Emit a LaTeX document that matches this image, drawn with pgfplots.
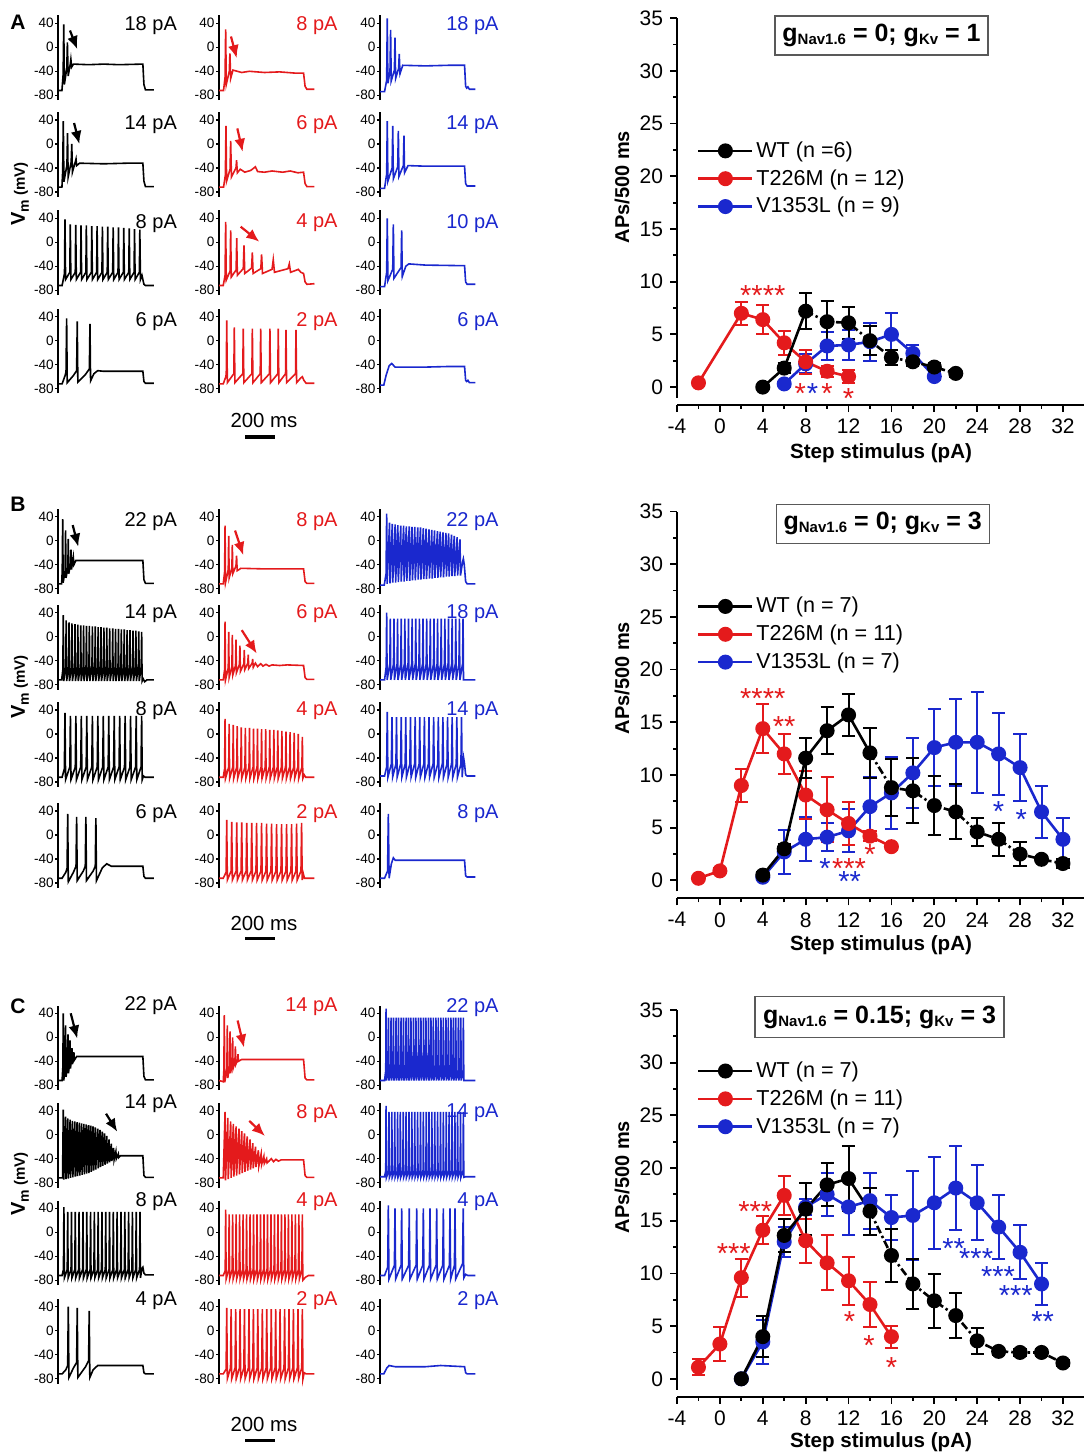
\documentclass[border=0pt]{standalone}
\usepackage{fontspec}
\setmainfont{Liberation Sans}
\usepackage{pgfplots}
\pgfplotsset{compat=1.18}
\usetikzlibrary{arrows.meta}
\definecolor{wtred}{RGB}{228,26,28}
\definecolor{mblue}{RGB}{26,40,206}
\newcommand\fs[1]{\fontsize{#1}{#1}\selectfont}

\pgfplotsset{
  trace/.style={scale only axis, width=48.5pt, height=42.3pt, anchor=south west,
    xmin=0, xmax=640, ymin=-88, ymax=53, axis x line=none, axis y line=left, xtick=\empty,
    axis line style={-, line width=1pt}, ytick={-80,-40,0,40}, yticklabels={-80,-40,0,40},
    tick align=outside, major tick length=1.5pt, tick style={line width=0.6pt, black},
    yticklabel style={font=\fs{6.8}, inner sep=0.6pt}, clip=false},
  mainax/.style={scale only axis, width=203.7pt, height=193.4pt, anchor=south west,
    xmin=-4, xmax=34, ymin=-1.7, ymax=35, axis lines=left, axis line style={-, line width=1pt},
    y axis line style={shorten <=3.5pt},
    xtick={-4,0,...,32}, ytick={0,5,...,35}, minor x tick num=1, minor y tick num=1,
    tick align=outside, major tick length=3.5pt, minor tick length=2pt,
    tick style={line width=0.9pt, black}, ticklabel style={font=\fs{10.5}},
    /pgf/number format/assume math mode=true, clip=false,
    legend cell align=left,
    legend style={draw=none, fill=none, font=\fs{10.8}, anchor=west, inner sep=0pt,
      row sep=2pt, nodes={inner sep=1.3pt}},
    legend image code/.code={\draw[mark repeat=2,mark phase=2,##1] plot coordinates {(0pt,0pt)(13.5pt,0pt)(27pt,0pt)};}},
  ser/.style={color=#1, line width=1.3pt, mark=*, mark size=3.1pt, mark options={solid, fill=#1}, forget plot,
    /pgfplots/error bars/y dir=both, /pgfplots/error bars/y explicit,
    /pgfplots/error bars/error bar style={line width=1pt, solid},
    /pgfplots/error bars/error mark options={rotate=90, mark size=3.3pt, line width=1pt, solid}},
  leg/.style={color=#1, line width=1.3pt, mark=*, mark size=3.1pt, mark options={fill=#1}},
  wtdash/.style={black, line width=1.3pt, dash pattern=on 4pt off 1.5pt on 1.2pt off 1.5pt, forget plot},
}
\tikzset{stars/.style={font=\fs{14.5}, inner sep=0pt, yshift=-3.2pt}}

% trace panel: x px, y px of the 40 mV tick, colour, label, label height (mV), trace, extras
\newcommand\tp[7]{%
  \begin{axis}[trace, at={(#1*0.5pt,-38.4pt-#2*0.5pt)}]
    \addplot[#3, line width=0.8pt] coordinates {#6};
    \node[anchor=east, text=#3, font=\fs{10}, inner sep=0pt] at (axis cs:785,#5) {#4};
    #7
  \end{axis}}
\newcommand\arr[5]{\draw[-{Latex[length=6.5pt,width=5.5pt]}, line width=1.1pt, #1] (axis cs:#2,#3) -- (axis cs:#4,#5);}

\begin{document}
\begin{tikzpicture}
\useasboundingbox (0,0) rectangle (542pt,-727pt);

% ---------------- A traces
\tp{58.3}{23.3}{black}{18 pA}{37}{(0,-72)(24,-72)(32,-45)(36,38)(40,-62)(56,-35)(60,8)(65,-48)(79,-28)(83,-20)(88,-33)(100,-28)(200,-29)(300,-28)(400,-29)(558,-28)(565,-62)(575,-71)(630,-71)}{\arr{black}{77}{28}{125}{-3}}
\tp{219}{23.3}{wtred}{8 pA}{37}{(0,-72)(30,-72)(40,-50)(44,30)(48,-62)(68,-40)(72,-10)(77,-52)(92,-38)(150,-42)(200,-40)(300,-42)(400,-41)(500,-43)(558,-43)(568,-65)(580,-70)(630,-70)}{\arr{wtred}{79}{18}{117}{-18}}
\tp{380}{23.3}{mblue}{18 pA}{37}{(0,-74)(30,-74)(44,-55)(48,48)(52,-60)(66,-40)(70,29)(74,-56)(95,-38)(99,16)(103,-52)(123,-35)(127,-11)(132,-44)(150,-30)(300,-31)(450,-30)(558,-30)(565,-65)(572,-68)(580,-66)(590,-70)(630,-70)}{}

\tp{58.3}{120}{black}{14 pA}{32}{(0,-72)(24,-72)(29,-45)(33,38)(37,-63)(57,-35)(61,18)(65,-55)(85,-30)(89,0)(93,-47)(112,-30)(117,-25)(121,-36)(140,-32)(300,-33)(450,-32)(558,-32)(565,-62)(575,-71)(630,-71)}{\arr{black}{104}{35}{139}{0}}
\tp{219}{120}{wtred}{6 pA}{32}{(0,-72)(30,-72)(42,-52)(46,30)(50,-62)(73,-42)(77,5)(82,-55)(112,-40)(116,-27)(121,-48)(140,-42)(170,-47)(210,-44)(240,-38)(255,-46)(300,-47)(350,-45)(420,-47)(470,-45)(520,-48)(558,-47)(568,-66)(580,-71)(630,-71)}{\arr{wtred}{121}{26}{156}{-13}}
\tp{380}{120}{mblue}{14 pA}{32}{(0,-74)(30,-74)(44,-50)(48,38)(52,-62)(80,-40)(84,30)(88,-58)(117,-38)(121,22)(125,-54)(154,-36)(158,14)(162,-48)(185,-36)(300,-37)(558,-37)(565,-66)(575,-70)(630,-70)}{}

\tp{58.3}{218.3}{black}{8 pA}{32}{(0,-72)(25,-72)(41,-52)(44,38)(48,-62)(76,-50)(79,30)(83,-62)(112,-50)(115,29)(119,-62)(147,-50)(150,28)(154,-62)(182,-50)(185,28)(189,-62)(218,-50)(221,27)(225,-62)(253,-50)(256,27)(260,-62)(288,-50)(291,26)(295,-62)(323,-50)(326,26)(330,-62)(359,-50)(362,25)(366,-62)(394,-50)(397,25)(401,-62)(429,-50)(432,24)(436,-62)(465,-50)(468,23)(472,-62)(500,-50)(503,22)(507,-62)(535,-50)(538,21)(542,-62)(552,-55)(558,-62)(565,-70)(575,-72)(630,-72)}{}
\tp{219}{218.3}{wtred}{4 pA}{32}{(0,-72)(28,-72)(40,-55)(44,34)(48,-63)(73,-48)(77,20)(81,-58)(113,-46)(117,7)(121,-55)(160,-44)(165,-5)(170,-52)(215,-43)(220,-17)(225,-52)(276,-44)(281,-20)(287,-52)(350,-45)(358,-29)(366,-50)(455,-44)(464,-36)(472,-50)(515,-46)(523,-45)(540,-50)(558,-52)(568,-66)(580,-70)(630,-69)}{\arr{wtred}{143}{26}{266}{1}}
\tp{380}{218.3}{mblue}{10 pA}{32}{(0,-74)(30,-74)(44,-50)(48,40)(52,-64)(84,-45)(88,30)(92,-60)(139,-42)(143,20)(147,-57)(170,-40)(190,-36)(300,-38)(558,-39)(565,-66)(575,-70)(630,-70)}{}

\tp{58.3}{316.7}{black}{6 pA}{32}{(0,-72)(25,-72)(45,-58)(51,-52)(55,37)(59,-70)(100,-58)(121,-50)(125,32)(129,-69)(180,-56)(205,-47)(209,28)(213,-67)(235,-55)(260,-50)(300,-51)(558,-51)(565,-68)(575,-71)(630,-71)}{}
\tp{219}{316.7}{wtred}{2 pA}{32}{(0,-72)(28,-72)(45,-60)(48,-55)(51,34)(55,-70)(98,-55)(101,22)(105,-70)(157,-55)(160,20)(164,-70)(217,-55)(220,20)(224,-70)(272,-55)(275,20)(279,-70)(333,-55)(336,20)(340,-70)(388,-55)(391,20)(395,-70)(439,-55)(442,18)(446,-70)(505,-55)(508,18)(512,-70)(540,-62)(550,-60)(560,-66)(575,-71)(630,-71)}{}
\tp{380}{316.7}{mblue}{6 pA}{32}{(0,-74)(25,-74)(40,-58)(60,-42)(77,-38)(100,-44)(300,-44)(450,-43)(558,-43)(565,-66)(572,-68)(580,-66)(590,-70)(630,-70)}{}

% ---------------- B traces
\tp{58.3}{516.7}{black}{22 pA}{32}{(0,-72)(22,-72)(26,-50)(29,36)(32,-70)(45,-50)(48,17)(51,-62)(63,-45)(66,3)(69,-55)(81,-38)(84,-15)(87,-48)(96,-32)(99,-27)(103,-40)(116,-33)(300,-33)(558,-33)(565,-65)(575,-71)(630,-71)}{\arr{black}{95}{26}{132}{-10}}
\tp{219}{516.7}{wtred}{8 pA}{32}{(0,-72)(28,-72)(37,-52)(40,25)(43,-70)(61,-48)(64,8)(67,-62)(85,-45)(88,-7)(91,-55)(112,-42)(116,-25)(120,-50)(145,-46)(300,-47)(558,-47)(568,-68)(580,-71)(630,-71)}{\arr{wtred}{106}{17}{160}{-24}}
\tp{380}{516.7}{mblue}{22 pA}{32}{(0,-74)(28,-74)(40,-55)(44,45)(47,-72)(63,30)(66,-71)(81,28)(84,-70)(100,27)(103,-70)(118,26)(121,-69)(137,25)(140,-68)(156,25)(159,-68)(174,24)(177,-67)(193,24)(196,-67)(211,23)(214,-66)(230,23)(233,-66)(249,22)(252,-65)(267,22)(270,-65)(286,21)(289,-64)(304,20)(307,-64)(323,19)(326,-63)(342,18)(345,-63)(360,17)(363,-62)(379,16)(382,-62)(397,15)(400,-61)(416,14)(419,-61)(435,13)(438,-60)(453,12)(456,-60)(472,10)(475,-59)(490,8)(493,-59)(509,6)(512,-58)(528,2)(531,-58)(545,-35)(550,-30)(556,-40)(565,-68)(575,-72)(630,-72)}{}

\tp{58.3}{612.7}{black}{14 pA}{39}{(0,-72)(22,-72)(30,-55)(33,36)(36,-74)(49,-50)(52,27)(55,-74)(68,-50)(71,24)(74,-74)(87,-50)(90,22)(93,-74)(107,-50)(110,21)(113,-74)(126,-50)(129,20)(132,-74)(145,-50)(148,19)(151,-74)(164,-50)(167,19)(170,-74)(183,-50)(186,18)(189,-74)(202,-50)(205,18)(208,-74)(222,-50)(225,17)(228,-74)(241,-50)(244,17)(247,-74)(260,-50)(263,16)(266,-74)(279,-50)(282,16)(285,-74)(298,-50)(301,15)(304,-74)(317,-50)(320,15)(323,-74)(336,-50)(339,14)(342,-74)(356,-50)(359,14)(362,-74)(375,-50)(378,13)(381,-74)(394,-50)(397,13)(400,-74)(413,-50)(416,12)(419,-74)(432,-50)(435,12)(438,-74)(451,-50)(454,11)(457,-74)(470,-50)(473,11)(476,-74)(490,-50)(493,10)(496,-74)(509,-50)(512,10)(515,-74)(528,-50)(531,9)(534,-74)(547,-50)(550,8)(553,-74)(560,-70)(570,-75)(585,-72)(630,-72)}{}
\tp{219}{612.7}{wtred}{6 pA}{39}{(0,-72)(28,-72)(37,-55)(40,25)(43,-72)(61,-52)(64,8)(67,-68)(85,-50)(88,3)(91,-64)(109,-48)(112,-5)(115,-60)(135,-46)(138,-15)(141,-58)(164,-45)(167,-22)(170,-55)(190,-44)(193,-30)(196,-53)(219,-44)(222,-37)(226,-51)(240,-44)(255,-50)(275,-45)(290,-49)(310,-46)(330,-49)(350,-47)(400,-48)(450,-47)(558,-48)(568,-68)(580,-71)(630,-71)}{\arr{wtred}{150}{11}{249}{-28}}
\tp{380}{612.7}{mblue}{18 pA}{39}{(0,-72)(30,-72)(41,-50)(44,40)(47,-72)(65,-45)(68,30)(71,-72)(89,-45)(92,30)(95,-72)(113,-45)(116,30)(119,-72)(137,-45)(140,30)(143,-72)(161,-45)(164,30)(167,-72)(185,-45)(188,30)(191,-72)(209,-45)(212,30)(215,-72)(233,-45)(236,30)(239,-72)(257,-45)(260,30)(263,-72)(281,-45)(284,30)(287,-72)(305,-45)(308,30)(311,-72)(329,-45)(332,30)(335,-72)(353,-45)(356,30)(359,-72)(377,-45)(380,30)(383,-72)(401,-45)(404,30)(407,-72)(425,-45)(428,30)(431,-72)(449,-45)(452,30)(455,-72)(473,-45)(476,30)(479,-72)(497,-45)(500,30)(503,-72)(521,-45)(524,30)(527,-72)(545,-45)(548,30)(551,-72)(565,-72)(630,-72)}{}

\tp{58.3}{710}{black}{8 pA}{39}{(0,-72)(25,-72)(40,-58)(44,35)(48,-76)(76,-55)(80,30)(84,-76)(112,-55)(116,30)(120,-76)(148,-55)(152,30)(156,-76)(184,-55)(188,30)(192,-76)(221,-55)(225,30)(229,-76)(257,-55)(261,30)(265,-76)(293,-55)(297,30)(301,-76)(329,-55)(333,30)(337,-76)(365,-55)(369,30)(373,-76)(401,-55)(405,30)(409,-76)(437,-55)(441,30)(445,-76)(473,-55)(477,30)(481,-76)(510,-55)(514,30)(518,-76)(546,-55)(550,30)(554,-76)(562,-70)(572,-72)(630,-72)}{}
\tp{219}{710}{wtred}{4 pA}{39}{(0,-72)(28,-72)(37,-58)(40,25)(43,-74)(64,-55)(67,17)(70,-74)(91,-55)(94,15)(97,-74)(117,-55)(120,13)(123,-74)(144,-55)(147,11)(150,-74)(171,-55)(174,10)(177,-74)(198,-55)(201,10)(204,-74)(225,-55)(228,9)(231,-74)(251,-55)(254,9)(257,-74)(278,-55)(281,8)(284,-74)(305,-55)(308,8)(311,-74)(332,-55)(335,7)(338,-74)(359,-55)(362,7)(365,-74)(385,-55)(388,6)(391,-74)(412,-55)(415,5)(418,-74)(439,-55)(442,4)(445,-74)(466,-55)(469,3)(472,-74)(493,-55)(496,2)(499,-74)(520,-55)(523,0)(526,-74)(547,-55)(550,-5)(553,-74)(562,-68)(572,-72)(630,-72)}{}
\tp{380}{710}{mblue}{14 pA}{39}{(0,-70)(30,-70)(44,-55)(48,37)(52,-72)(75,-50)(79,28)(83,-72)(105,-50)(109,28)(113,-72)(136,-50)(140,28)(144,-72)(166,-50)(170,28)(174,-72)(197,-50)(201,28)(205,-72)(228,-50)(232,28)(236,-72)(258,-50)(262,28)(266,-72)(289,-50)(293,28)(297,-72)(319,-50)(323,28)(327,-72)(350,-50)(354,28)(358,-72)(381,-50)(385,28)(389,-72)(411,-50)(415,28)(419,-72)(442,-50)(446,28)(450,-72)(472,-50)(476,28)(480,-72)(503,-50)(507,28)(511,-72)(534,-50)(538,28)(542,-72)(552,-40)(558,-50)(565,-68)(575,-70)(630,-70)}{}

\tp{58.3}{811}{black}{6 pA}{35}{(0,-72)(25,-72)(50,-62)(58,-55)(62,35)(66,-78)(100,-62)(117,-52)(121,30)(125,-76)(165,-60)(178,-52)(182,30)(186,-76)(230,-60)(244,-52)(248,28)(252,-76)(290,-55)(319,-48)(350,-52)(558,-52)(565,-69)(575,-72)(630,-72)}{}
\tp{219}{811}{wtred}{2 pA}{35}{(0,-72)(28,-72)(47,-62)(51,25)(55,-75)(80,-60)(84,22)(88,-75)(113,-60)(117,21)(121,-75)(146,-60)(150,21)(154,-75)(179,-60)(183,20)(187,-75)(212,-60)(216,20)(220,-75)(244,-60)(248,20)(252,-75)(277,-60)(281,20)(285,-75)(310,-60)(314,19)(318,-75)(343,-60)(347,19)(351,-75)(376,-60)(380,18)(384,-75)(409,-60)(413,18)(417,-75)(442,-60)(446,18)(450,-75)(475,-60)(479,18)(483,-75)(508,-60)(512,19)(516,-75)(541,-60)(545,20)(549,-75)(556,-64)(564,-72)(630,-72)}{}
\tp{380}{811}{mblue}{8 pA}{35}{(0,-72)(30,-72)(50,-60)(55,35)(60,-72)(75,-48)(88,-38)(100,-42)(300,-42)(558,-42)(565,-68)(575,-70)(630,-70)}{}

% ---------------- C traces
\tp{58.3}{1013.3}{black}{22 pA}{53}{(0,-72)(25,-72)(30,-50)(33,40)(36,-72)(45,-50)(48,20)(51,-66)(61,-45)(64,5)(67,-60)(74,-45)(77,-5)(80,-52)(87,-38)(90,-18)(93,-45)(100,-32)(103,-25)(106,-38)(121,-32)(300,-32)(558,-32)(565,-65)(575,-71)(630,-71)}{\arr{black}{82}{40}{125}{-2}}
\tp{219}{1013.3}{wtred}{14 pA}{51}{(0,-72)(28,-74)(32,-55)(35,37)(38,-75)(52,-52)(55,20)(58,-68)(70,-48)(73,10)(76,-60)(87,-45)(90,0)(93,-52)(105,-42)(108,-15)(111,-45)(122,-38)(125,-28)(128,-40)(149,-37)(300,-37)(558,-37)(568,-68)(580,-71)(630,-71)}{\arr{wtred}{123}{28}{165}{-17}}
\tp{380}{1013.3}{mblue}{22 pA}{50}{(0,-72)(30,-72)(38,-55)(40,48)(43,-72)(54,-55)(56,33)(59,-72)(71,-55)(73,33)(76,-72)(87,-55)(89,33)(92,-72)(104,-55)(106,33)(109,-72)(120,-55)(122,33)(125,-72)(137,-55)(139,33)(142,-72)(153,-55)(155,33)(158,-72)(170,-55)(172,33)(175,-72)(186,-55)(188,33)(191,-72)(202,-55)(204,33)(207,-72)(219,-55)(221,33)(224,-72)(235,-55)(237,33)(240,-72)(252,-55)(254,33)(257,-72)(268,-55)(270,33)(273,-72)(285,-55)(287,33)(290,-72)(301,-55)(303,33)(306,-72)(318,-55)(320,33)(323,-72)(334,-55)(336,33)(339,-72)(350,-55)(352,33)(355,-72)(367,-55)(369,33)(372,-72)(383,-55)(385,33)(388,-72)(400,-55)(402,33)(405,-72)(416,-55)(418,33)(421,-72)(433,-55)(435,33)(438,-72)(449,-55)(451,33)(454,-72)(466,-55)(468,33)(471,-72)(482,-55)(484,33)(487,-72)(498,-55)(500,33)(503,-72)(515,-55)(517,33)(520,-72)(531,-55)(533,33)(536,-72)(548,-55)(550,33)(553,-72)(565,-72)(630,-72)}{}

\tp{58.3}{1110.7}{black}{14 pA}{51}{(0,-72)(28,-72)(33,42)(36,-75)(48,30)(51,-74)(63,27)(66,-73)(78,25)(81,-72)(93,23)(96,-71)(109,22)(112,-70)(124,21)(127,-69)(139,20)(142,-68)(154,19)(157,-67)(169,18)(172,-66)(184,17)(187,-65)(199,16)(202,-64)(214,15)(217,-62)(229,14)(232,-60)(244,12)(247,-58)(260,10)(263,-56)(275,8)(278,-54)(290,5)(293,-52)(305,2)(308,-50)(320,-2)(323,-48)(335,-8)(338,-46)(350,-15)(353,-44)(365,-22)(368,-42)(380,-28)(383,-40)(396,-32)(399,-38)(410,-35)(430,-35)(558,-35)(565,-68)(575,-71)(630,-71)}{\arr{black}{315}{35}{389}{5}}
\tp{219}{1110.7}{wtred}{8 pA}{35}{(0,-72)(28,-72)(40,38)(43,-76)(58,28)(61,-74)(77,22)(80,-72)(95,18)(98,-70)(113,14)(116,-68)(132,10)(135,-66)(150,6)(153,-64)(168,2)(171,-62)(186,-3)(189,-60)(205,-8)(208,-58)(223,-14)(226,-56)(241,-20)(244,-54)(260,-26)(263,-52)(278,-32)(281,-50)(296,-36)(299,-48)(314,-40)(317,-47)(330,-44)(345,-40)(360,-45)(375,-41)(392,-44)(410,-42)(558,-42)(568,-68)(580,-71)(630,-71)}{\arr{wtred}{200}{23}{303}{-2}}
\tp{380}{1110.7}{mblue}{14 pA}{36}{(0,-70)(30,-70)(38,-60)(40,48)(43,-71)(57,-60)(59,38)(62,-71)(76,-60)(78,38)(81,-71)(95,-60)(97,38)(100,-71)(114,-60)(116,38)(119,-71)(132,-60)(134,38)(137,-71)(151,-60)(153,38)(156,-71)(170,-60)(172,38)(175,-71)(189,-60)(191,38)(194,-71)(208,-60)(210,38)(213,-71)(227,-60)(229,38)(232,-71)(246,-60)(248,38)(251,-71)(265,-60)(267,38)(270,-71)(284,-60)(286,38)(289,-71)(303,-60)(305,38)(308,-71)(321,-60)(323,38)(326,-71)(340,-60)(342,38)(345,-71)(359,-60)(361,38)(364,-71)(378,-60)(380,38)(383,-71)(397,-60)(399,38)(402,-71)(416,-60)(418,38)(421,-71)(435,-60)(437,38)(440,-71)(454,-60)(456,38)(459,-71)(473,-60)(475,38)(478,-71)(492,-60)(494,38)(497,-71)(510,-60)(512,38)(515,-71)(529,-60)(531,38)(534,-71)(548,-60)(550,38)(553,-71)(565,-70)(630,-70)}{}

\tp{58.3}{1208.3}{black}{8 pA}{51}{(0,-72)(25,-72)(34,-62)(37,42)(40,-76)(59,-62)(62,34)(65,-76)(84,-62)(87,34)(90,-76)(109,-62)(112,34)(115,-76)(134,-62)(137,34)(140,-76)(160,-62)(163,34)(166,-76)(185,-62)(188,34)(191,-76)(210,-62)(213,34)(216,-76)(235,-62)(238,34)(241,-76)(260,-62)(263,34)(266,-76)(285,-62)(288,34)(291,-76)(310,-62)(313,34)(316,-76)(335,-62)(338,34)(341,-76)(360,-62)(363,34)(366,-76)(385,-62)(388,34)(391,-76)(411,-62)(414,34)(417,-76)(436,-62)(439,34)(442,-76)(461,-62)(464,34)(467,-76)(486,-62)(489,34)(492,-76)(511,-62)(514,34)(517,-76)(536,-62)(539,34)(542,-76)(552,-60)(558,-58)(565,-68)(575,-71)(630,-71)}{}
\tp{219}{1208.3}{wtred}{4 pA}{51}{(0,-72)(28,-72)(41,-64)(44,38)(47,-78)(64,-62)(67,30)(70,-78)(87,-62)(90,30)(93,-78)(110,-62)(113,30)(116,-78)(133,-62)(136,30)(139,-78)(156,-62)(159,30)(162,-78)(179,-62)(182,30)(185,-78)(202,-62)(205,30)(208,-78)(225,-62)(228,30)(231,-78)(248,-62)(251,30)(254,-78)(271,-62)(274,30)(277,-78)(294,-62)(297,30)(300,-78)(317,-62)(320,30)(323,-78)(340,-62)(343,30)(346,-78)(363,-62)(366,30)(369,-78)(386,-62)(389,30)(392,-78)(409,-62)(412,30)(415,-78)(432,-62)(435,30)(438,-78)(455,-62)(458,30)(461,-78)(478,-62)(481,30)(484,-78)(501,-62)(504,30)(507,-78)(524,-62)(527,30)(530,-78)(547,-62)(550,30)(553,-80)(570,-75)(590,-72)(630,-72)}{}
\tp{380}{1208.3}{mblue}{4 pA}{51}{(0,-72)(30,-72)(51,-58)(55,45)(59,-78)(95,-55)(99,40)(103,-78)(139,-55)(143,40)(147,-78)(189,-55)(193,40)(197,-78)(238,-55)(242,40)(246,-78)(282,-55)(286,40)(290,-78)(326,-55)(330,40)(334,-78)(370,-55)(374,40)(378,-78)(414,-55)(418,40)(422,-78)(458,-55)(462,40)(466,-78)(491,-55)(495,40)(499,-78)(545,-52)(549,40)(553,-76)(565,-70)(580,-72)(630,-72)}{}

\tp{58.3}{1306.7}{black}{4 pA}{50}{(0,-72)(25,-72)(50,-65)(62,-58)(66,40)(70,-78)(100,-62)(121,-53)(125,38)(129,-78)(180,-60)(200,-50)(204,33)(208,-78)(230,-65)(260,-58)(350,-58)(558,-58)(565,-70)(575,-72)(630,-72)}{}
\tp{219}{1306.7}{wtred}{2 pA}{50}{(0,-72)(28,-72)(47,-64)(51,38)(55,-80)(76,-62)(80,36)(84,-80)(106,-62)(110,36)(114,-80)(135,-62)(139,36)(143,-80)(164,-62)(168,36)(172,-80)(194,-62)(198,36)(202,-80)(223,-62)(227,36)(231,-80)(252,-62)(256,36)(260,-80)(282,-62)(286,36)(290,-80)(311,-62)(315,36)(319,-80)(341,-62)(345,36)(349,-80)(370,-62)(374,36)(378,-80)(399,-62)(403,36)(407,-80)(429,-62)(433,36)(437,-80)(458,-62)(462,36)(466,-80)(487,-62)(491,36)(495,-80)(517,-62)(521,36)(525,-80)(546,-62)(550,36)(554,-80)(562,-70)(575,-72)(630,-72)}{}
\tp{380}{1306.7}{mblue}{2 pA}{50}{(0,-72)(25,-72)(45,-62)(60,-58)(100,-60)(300,-60)(400,-58)(558,-60)(565,-70)(575,-72)(630,-72)}{}

% ---------------- A counts
\begin{axis}[mainax, at={(338.5pt,-202.5pt)}, legend style={at={(0.0484,0.585)}}]
\addlegendimage{leg=black}\addlegendentry{WT (n =6)}
\addlegendimage{leg=wtred}\addlegendentry{T226M (n = 12)}
\addlegendimage{leg=mblue}\addlegendentry{V1353L (n = 9)}
\addplot[ser=mblue] coordinates {(6,0.3) +- (0,0.3) (8,2.2) +- (0,0.9) (10,3.9) +- (0,1.35) (12,4.0) +- (0,1.4) (14,4.3) +- (0,1.8) (16,5.0) +- (0,2.0) (18,3.2) +- (0,0.8) (20,1.0) +- (0,0.3)};
\addplot[ser=wtred] coordinates {(-2,0.4) +- (0,0.3) (2,7.0) +- (0,1.1) (4,6.4) +- (0,1.35) (6,4.2) +- (0,1.15) (8,2.4) +- (0,1.15) (10,1.5) +- (0,0.5) (12,1.0) +- (0,0.6)};
\addplot[black, line width=1.3pt, forget plot] coordinates {(4,0)(6,1.8)(8,7.2)};
\addplot[wtdash] coordinates {(8,7.2)(10,6.2)(12,6.1)(14,4.4)(16,2.8)(18,2.4)(20,1.9)(22,1.3)};
\addplot[ser=black, only marks] coordinates {(4,0) +- (0,0.2) (6,1.8) +- (0,0.5) (8,7.2) +- (0,1.7) (10,6.2) +- (0,2.0) (12,6.1) +- (0,1.5) (14,4.4) +- (0,1.4) (16,2.8) +- (0,0.7) (18,2.4) +- (0,0.4) (20,1.9) +- (0,0.4) (22,1.3) +- (0,0.3)};
\node[stars, wtred] at (axis cs:4,9.3) {****};
\node[stars, wtred] at (axis cs:7.5,0) {*};
\node[stars, mblue] at (axis cs:8.65,0) {*};
\node[stars, wtred] at (axis cs:10,0) {*};
\node[stars, wtred] at (axis cs:12,-0.5) {*};
\end{axis}

% ---------------- B counts
\begin{axis}[mainax, at={(338.5pt,-449.15pt)}, legend style={at={(0.0484,0.6826)}}]
\addlegendimage{leg=black}\addlegendentry{WT (n = 7)}
\addlegendimage{leg=wtred}\addlegendentry{T226M (n = 11)}
\addlegendimage{leg=mblue}\addlegendentry{V1353L (n = 7)}
\addplot[ser=mblue] coordinates {(4,0.3) +- (0,0.3) (6,2.7) +- (0,2.05) (8,3.9) +- (0,2.1) (10,4.1) +- (0,1.3) (12,4.7) +- (0,2.05) (14,7.0) +- (0,2.85) (16,8.3) +- (0,3.4) (18,10.2) +- (0,3.35) (20,12.6) +- (0,3.65) (22,13.1) +- (0,4.1) (24,13.1) +- (0,4.8) (26,12.0) +- (0,3.9) (28,10.7) +- (0,3.2) (30,6.5) +- (0,2.5) (32,3.9) +- (0,2.0)};
\addplot[ser=wtred] coordinates {(-2,0.2) +- (0,0.2) (0,0.9) +- (0,0.3) (2,9.0) +- (0,1.55) (4,14.4) +- (0,2.3) (6,12.0) +- (0,1.9) (8,8.1) +- (0,2.3) (10,6.7) +- (0,3.1) (12,5.4) +- (0,2.0) (14,4.2) +- (0,0.5) (16,3.2) +- (0,0.3)};
\addplot[black, line width=1.3pt, forget plot] coordinates {(4,0.5)(6,3.0)(8,11.6)(10,14.2)(12,15.7)(14,12.1)};
\addplot[wtdash] coordinates {(14,12.1)(16,8.8)(18,8.5)(20,7.1)(22,6.5)(24,4.6)(26,3.9)(28,2.5)(30,2.0)(32,1.6)};
\addplot[ser=black, only marks] coordinates {(4,0.5) +- (0,0.3) (6,3.0) +- (0,0.5) (8,11.6) +- (0,1.9) (10,14.2) +- (0,2.25) (12,15.7) +- (0,2.0) (14,12.1) +- (0,2.4) (16,8.8) +- (0,2.7) (18,8.5) +- (0,3.1) (20,7.1) +- (0,2.8) (22,6.5) +- (0,2.6) (24,4.6) +- (0,1.35) (26,3.9) +- (0,1.55) (28,2.5) +- (0,1.15) (30,2.0) +- (0,0.3) (32,1.6) +- (0,0.4)};
\node[stars, wtred] at (axis cs:4,17.9) {****};
\node[stars, wtred] at (axis cs:6,15.2) {**};
\node[stars, wtred] at (axis cs:14,3.1) {*};
\node[stars, mblue] at (axis cs:9.8,1.73) {*};
\node[stars, wtred] at (axis cs:12.05,1.73) {***};
\node[stars, mblue] at (axis cs:12.1,0.5) {**};
\node[stars, mblue] at (axis cs:26,7.1) {*};
\node[stars, mblue] at (axis cs:28.1,6.4) {*};
\end{axis}

% ---------------- C counts
\begin{axis}[mainax, at={(338.5pt,-698.35pt)}, legend style={at={(0.0484,0.770)}}]
\addlegendimage{leg=black}\addlegendentry{WT (n = 7)}
\addlegendimage{leg=wtred}\addlegendentry{T226M (n = 11)}
\addlegendimage{leg=mblue}\addlegendentry{V1353L (n = 7)}
\addplot[ser=mblue] coordinates {(2,0) +- (0,0.2) (4,3.5) +- (0,2.05) (6,13.0) +- (0,1.45) (8,16.3) +- (0,0.8) (10,17.5) +- (0,2.05) (12,16.3) +- (0,2.7) (14,16.9) +- (0,2.65) (16,15.3) +- (0,2.1) (18,15.5) +- (0,4.2) (20,16.7) +- (0,4.35) (22,18.1) +- (0,4.0) (24,16.7) +- (0,3.55) (26,14.4) +- (0,3.0) (28,12.0) +- (0,2.55) (30,9.0) +- (0,2.0)};
\addplot[ser=wtred] coordinates {(-2,1.1) +- (0,0.75) (0,3.3) +- (0,1.6) (2,9.6) +- (0,1.8) (4,14.1) +- (0,1.35) (6,17.4) +- (0,1.85) (8,13.1) +- (0,2.1) (10,11.0) +- (0,2.6) (12,9.3) +- (0,2.3) (14,7.05) +- (0,2.15) (16,4.0) +- (0,1.05)};
\addplot[black, line width=1.3pt, forget plot] coordinates {(2,0)(4,4.0)(6,13.6)(8,16.1)(10,18.4)(12,19.0)(14,15.9)};
\addplot[wtdash] coordinates {(14,15.9)(16,11.7)(18,9.0)(20,7.4)(22,6.0)(24,3.6)(26,2.6)(28,2.5)(30,2.5)(32,1.5)};
\addplot[ser=black, only marks] coordinates {(2,0) +- (0,0.2) (4,4.0) +- (0,1.95) (6,13.6) +- (0,1.6) (8,16.1) +- (0,2.5) (10,18.4) +- (0,2.05) (12,19.0) +- (0,3.1) (14,15.9) +- (0,2.25) (16,11.7) +- (0,2.5) (18,9.0) +- (0,2.35) (20,7.4) +- (0,2.55) (22,6.0) +- (0,2.1) (24,3.6) +- (0,1.2) (26,2.6) +- (0,0.3) (28,2.5) +- (0,0.3) (30,2.5) +- (0,0.3) (32,1.5) +- (0,0.3)};
\node[stars, wtred] at (axis cs:3.3,16.5) {***};
\node[stars, wtred] at (axis cs:1.3,12.5) {***};
\node[stars, wtred] at (axis cs:12.1,6.0) {*};
\node[stars, wtred] at (axis cs:13.9,3.8) {*};
\node[stars, wtred] at (axis cs:16,1.7) {*};
\node[stars, mblue] at (axis cs:21.8,13.0) {**};
\node[stars, mblue] at (axis cs:23.9,12.0) {***};
\node[stars, mblue] at (axis cs:25.95,10.3) {***};
\node[stars, mblue] at (axis cs:27.6,8.5) {***};
\node[stars, mblue] at (axis cs:30.1,6.0) {**};
\end{axis}

% ---------------- texts placed in image pixels
\begin{scope}[x=0.5pt,y=-0.5pt]
\foreach \l/\y in {A/22,B/504,C/1006}
  \node[font=\bfseries\fs{10.5}] at (18,\y) {\l};
\foreach \y in {194,687,1184}
  \node[rotate=90, font=\bfseries] at (20,\y) {\fs{10}V\raisebox{-2pt}{\fs{7}m}\fs{7.5} (mV)};
\foreach \t/\b in {420/437,923/938,1424/1440} {
  \node[font=\fs{10.2}] at (264,\t) {200 ms};
  \draw[line width=1.5pt] (245,\b) -- (275,\b);}
\foreach \y in {453,945,1441.7}
  \node[font=\bfseries\fs{10.3}] at (881,\y) {Step stimulus (pA)};
\foreach \y in {187,678,1177}
  \node[rotate=90, font=\bfseries\fs{10}] at (622,\y) {APs/500 ms};
\node[draw=black!65, line width=0.6pt, minimum width=106.5pt, minimum height=19.5pt, inner sep=0pt,
  font=\bfseries\fs{12.5}] at (881.5,35.5) {g\raisebox{-1.5pt}{\fs{7.5}Nav1.6} = 0; g\raisebox{-1.5pt}{\fs{7.5}Kv} = 1};
\node[draw=black!65, line width=0.6pt, minimum width=106.5pt, minimum height=19.5pt, inner sep=0pt,
  font=\bfseries\fs{12.5}] at (882.7,523.7) {g\raisebox{-1.5pt}{\fs{7.5}Nav1.6} = 0; g\raisebox{-1.5pt}{\fs{7.5}Kv} = 3};
\node[draw=black!65, line width=0.6pt, minimum width=124.5pt, minimum height=20.3pt, inner sep=0pt,
  font=\bfseries\fs{12.5}] at (879.5,1017) {g\raisebox{-1.5pt}{\fs{7.5}Nav1.6} = 0.15; g\raisebox{-1.5pt}{\fs{7.5}Kv} = 3};
\end{scope}
\end{tikzpicture}
\end{document}
